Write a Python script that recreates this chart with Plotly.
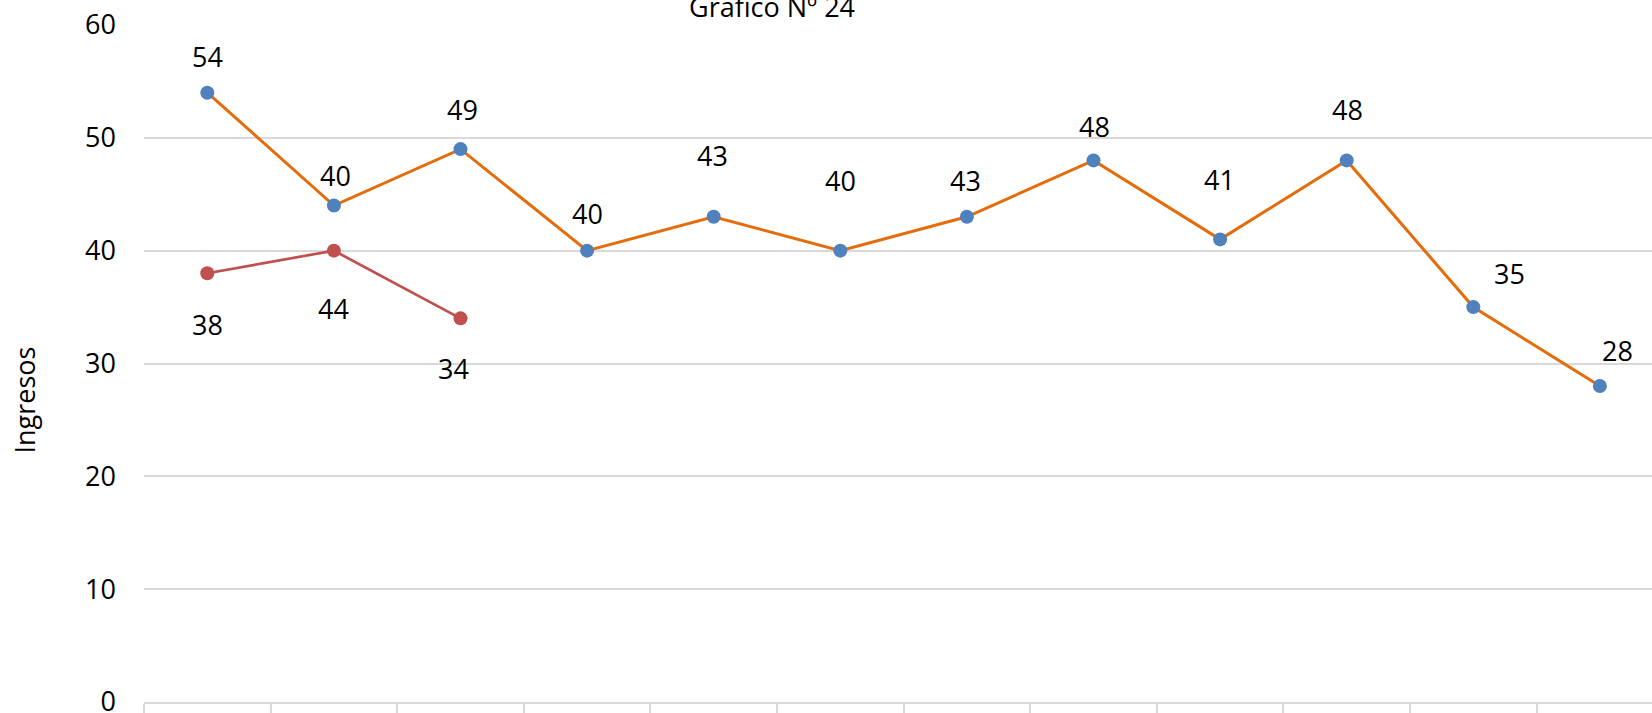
import plotly.graph_objects as go

# ---- data ----
categories = list(range(12))
serie_naranja = [54, 44, 49, 40, 43, 40, 43, 48, 41, 48, 35, 28]
etiquetas_naranja = ["54", "40", "49", "40", "43", "40", "43", "48", "41", "48", "35", "28"]
serie_roja = [38, 40, 34]
etiquetas_roja = ["38", "44", "34"]
y_ticks = [0, 10, 20, 30, 40, 50, 60]

# ---- style: label offsets (pixels) ----
naranja_dx = [0, 2, 2, 0, -1, 0, -1, 1, -1, 1, 36, 18]
naranja_dy = [-36, -30, -40, -37, -61, -70, -36, -34, -60, -51, -34, -36]
roja_dx = [0, 0, -7]
roja_dy = [51, 58, 50]

W, H = 1652, 713
ML, MR, MT, MB = 144, 0, 25, 11
PW, PH = W - ML - MR, H - MT - MB

def px_x(px):
    return (px - ML) / PW

def px_y(py):
    return (H - MB - py) / PH

FONT = "Open Sans"
FS = 27
ORANGE = "#E46C0A"
BLUE = "#4F81BD"
RED = "#C0504D"
GRID = "#D9D9D9"

fig = go.Figure()
fig.add_trace(go.Scatter(
    x=categories, y=serie_naranja, mode="lines+markers",
    line=dict(color=ORANGE, width=3),
    marker=dict(color=BLUE, size=14, line=dict(width=0)),
    showlegend=False, cliponaxis=False,
))
fig.add_trace(go.Scatter(
    x=categories[:len(serie_roja)], y=serie_roja, mode="lines+markers",
    line=dict(color=RED, width=2.7),
    marker=dict(color=RED, size=14, line=dict(width=0)),
    showlegend=False, cliponaxis=False,
))

annotations = []
for i, (v, t) in enumerate(zip(serie_naranja, etiquetas_naranja)):
    annotations.append(dict(x=categories[i], y=v, xref="x", yref="y", text=t,
                            showarrow=False, xshift=naranja_dx[i], yshift=-naranja_dy[i],
                            font=dict(family=FONT, size=FS, color="#000000")))
for i, (v, t) in enumerate(zip(serie_roja, etiquetas_roja)):
    annotations.append(dict(x=categories[i], y=v, xref="x", yref="y", text=t,
                            showarrow=False, xshift=roja_dx[i], yshift=-roja_dy[i],
                            font=dict(family=FONT, size=FS, color="#000000")))

annotations.append(dict(x=px_x(772), y=px_y(6), xref="paper", yref="paper",
                        text="Gráfico Nº 24", showarrow=False,
                        xanchor="center", yanchor="middle",
                        font=dict(family=FONT, size=FS, color="#000000")))
annotations.append(dict(x=px_x(23.5), y=px_y(400), xref="paper", yref="paper",
                        text="Ingresos", showarrow=False, textangle=-90,
                        xanchor="center", yanchor="middle",
                        font=dict(family=FONT, size=FS, color="#000000")))

boundaries = [c - 0.5 for c in categories] + [categories[-1] + 0.5]

fig.update_layout(
    width=W, height=H,
    margin=dict(l=ML, r=MR, t=MT, b=MB, pad=0, autoexpand=False),
    paper_bgcolor="white", plot_bgcolor="white",
    font=dict(family=FONT, size=FS, color="#000000"),
    annotations=annotations,
    xaxis=dict(
        range=[-0.5, -0.5 + PW / 126.6],
        automargin=False,
        showgrid=False, zeroline=False,
        showline=True, linecolor=GRID, linewidth=1.5,
        tickmode="array", tickvals=boundaries, ticktext=["" for _ in boundaries],
        ticks="outside", ticklen=12, tickcolor=GRID, tickwidth=1.5,
        showticklabels=False, fixedrange=True,
    ),
    yaxis=dict(
        range=[0, 60],
        automargin=False,
        tickmode="array", tickvals=y_ticks,
        showgrid=True, gridcolor=GRID, gridwidth=1.5,
        zeroline=False, showline=False, ticks="",
        ticklabelstandoff=27, ticklabeloverflow="allow",
        tickfont=dict(family=FONT, size=FS, color="#000000"),
        fixedrange=True,
    ),
)

fig.write_html(
    "out.html",
    config={"displayModeBar": False},
    post_script="document.body.style.margin='0';document.body.style.overflow='hidden';",
)
